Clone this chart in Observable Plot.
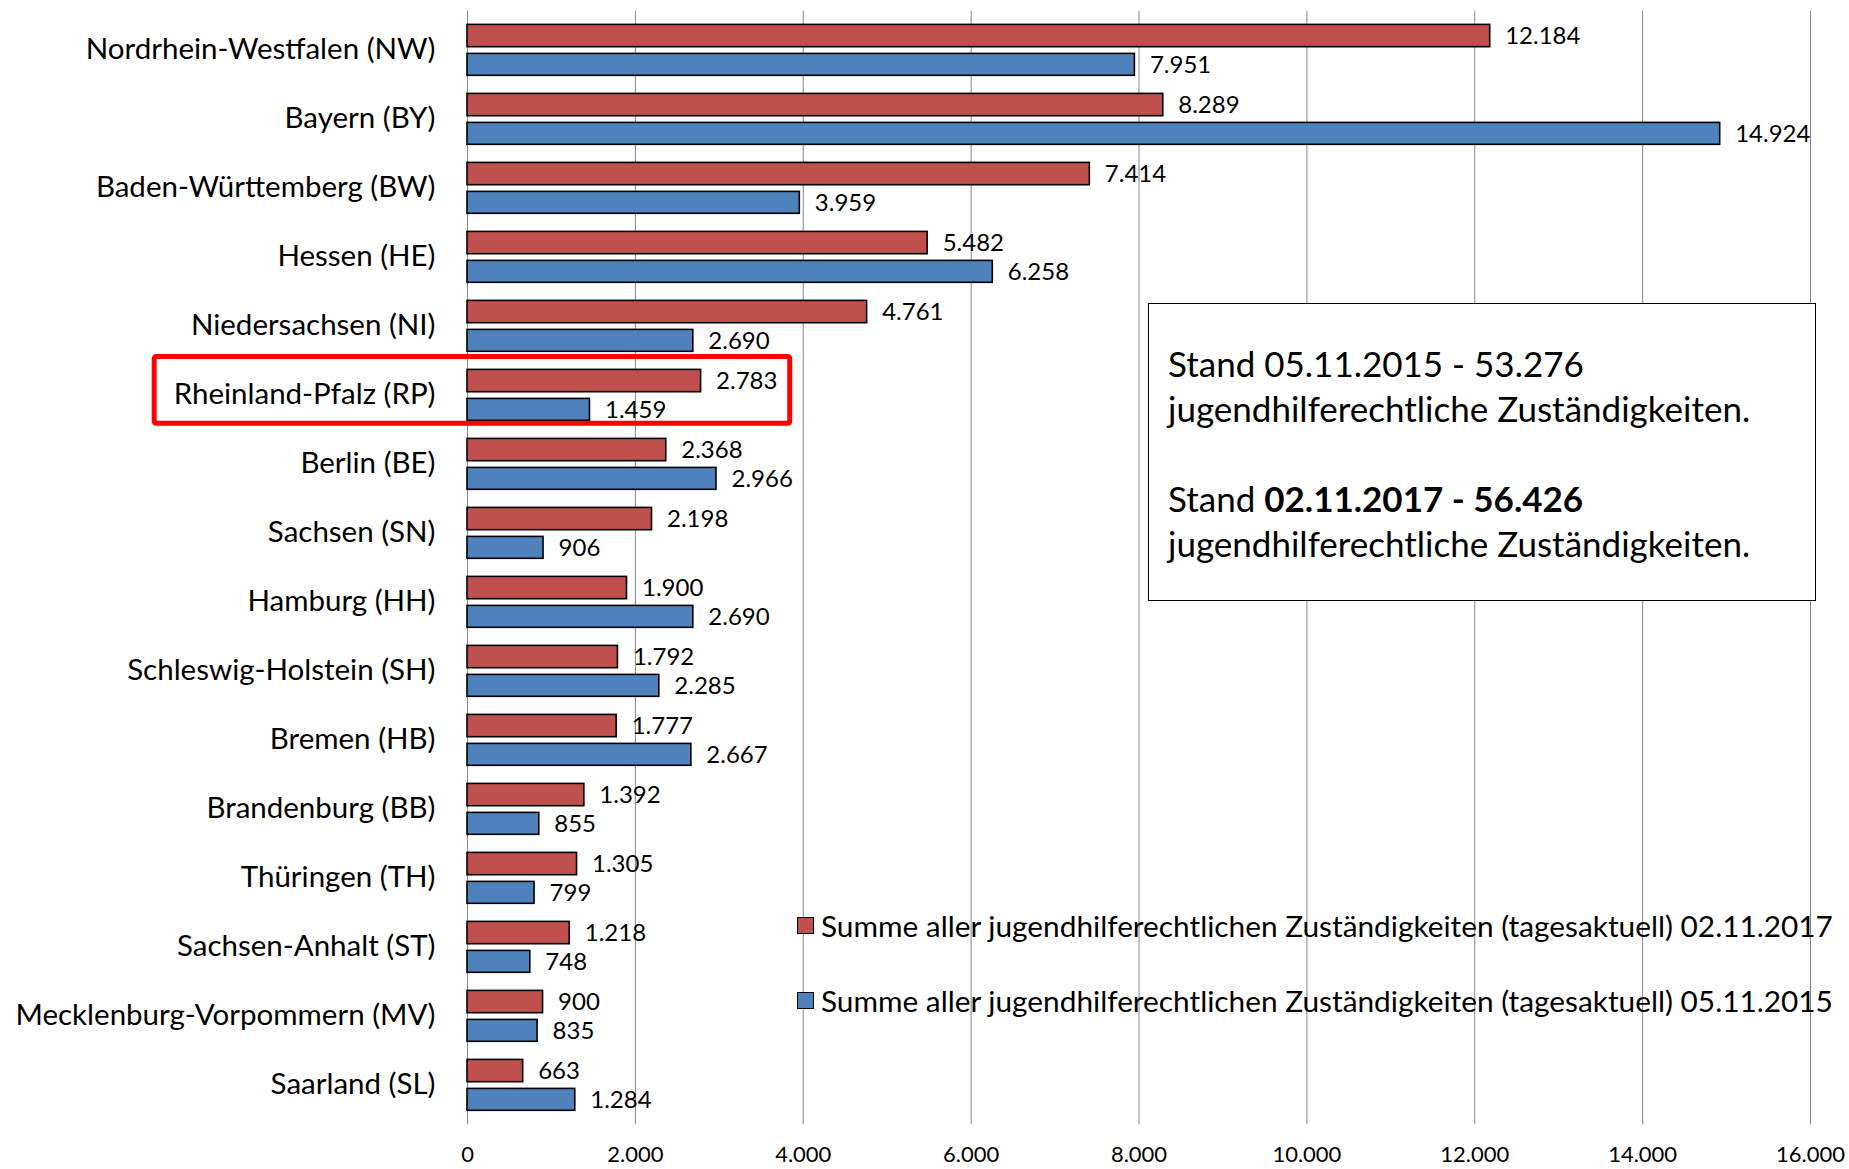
<!DOCTYPE html>
<html>
<head>
<meta charset="utf-8">
<script src="https://cdn.jsdelivr.net/npm/d3@7"></script>
<script src="https://cdn.jsdelivr.net/npm/@observablehq/plot@0.6"></script>
<style>
  html, body { margin: 0; padding: 0; background: #fff; }
  #wrap { position: relative; width: 1849px; height: 1169px; font-family: Lato, "Open Sans", sans-serif; color: #000; }
  #note { position: absolute; left: 1148px; top: 303px; width: 666px; height: 296px; border: 1.5px solid #000; background: #fff;
          box-sizing: content-box; padding: 0; font-size: 35px; line-height: 45px; }
  #note .inner { position: absolute; left: 19px; top: 37px; white-space: nowrap; }
  .leg { position: absolute; left: 797px; font-size: 29.8px; white-space: nowrap; display: flex; align-items: center; }
  .leg .sw { width: 15px; height: 15px; border: 1.5px solid #000; margin-right: 7px; }
</style>
</head>
<body>
<div id="wrap"></div>
<script>
const categories = ["Nordrhein-Westfalen (NW)", "Bayern (BY)", "Baden-Württemberg (BW)", "Hessen (HE)", "Niedersachsen (NI)", "Rheinland-Pfalz (RP)", "Berlin (BE)", "Sachsen (SN)", "Hamburg (HH)", "Schleswig-Holstein (SH)", "Bremen (HB)", "Brandenburg (BB)", "Thüringen (TH)", "Sachsen-Anhalt (ST)", "Mecklenburg-Vorpommern (MV)", "Saarland (SL)"];
const values2017 = [12184, 8289, 7414, 5482, 4761, 2783, 2368, 2198, 1900, 1792, 1777, 1392, 1305, 1218, 900, 663];
const values2015 = [7951, 14924, 3959, 6258, 2690, 1459, 2966, 906, 2690, 2285, 2667, 855, 799, 748, 835, 1284];
const xTicks = [0, 2000, 4000, 6000, 8000, 10000, 12000, 14000, 16000];
const seriesNames = ["Summe aller jugendhilferechtlichen Zuständigkeiten (tagesaktuell) 02.11.2017", "Summe aller jugendhilferechtlichen Zuständigkeiten (tagesaktuell) 05.11.2015"];
const highlight = "Rheinland-Pfalz (RP)";

const RED = "#C0504D", BLUE = "#4F81BD";
const de = d3.formatLocale({decimal: ",", thousands: ".", grouping: [3], currency: ["", " €"]});
const fmt = de.format(",d");

const rows = categories.map((c, i) => ({cat: c, v2017: values2017[i], v2015: values2015[i]}));

const mTop = 10.7, mBottom = 1169 - 1124.3;
const step = (1169 - mTop - mBottom) / categories.length;
// bar geometry inside each band (pixels from band top)
const redTop = 9.4, redBot = 32.3, blueTop = 38.4, blueBot = 60.9;

const chart = Plot.plot({
  width: 1849,
  height: 1169,
  marginLeft: 467,
  marginRight: 39,
  marginTop: mTop,
  marginBottom: mBottom,
  style: {fontFamily: "Lato, 'Open Sans', sans-serif", color: "#000", background: "transparent"},
  x: {domain: [0, 16000]},
  y: {domain: categories, padding: 0},
  marks: [
    Plot.gridX(xTicks, {stroke: "#868686", strokeOpacity: 1, strokeWidth: 1}),
    Plot.axisX({ticks: xTicks, tickSize: 0, tickPadding: 22, fontSize: 22, tickFormat: fmt, label: null}),
    Plot.axisY({tickSize: 0, tickPadding: 32, fontSize: 29.5, label: null}),
    Plot.barX(rows, {x: "v2017", y: "cat", fill: RED, stroke: "#000", strokeWidth: 1.6, insetTop: redTop, insetBottom: step - redBot}),
    Plot.barX(rows, {x: "v2015", y: "cat", fill: BLUE, stroke: "#000", strokeWidth: 1.6, insetTop: blueTop, insetBottom: step - blueBot}),
    Plot.text(rows, {x: "v2017", y: "cat", text: d => fmt(d.v2017), dx: 15, dy: (redTop + redBot) / 2 - step / 2, textAnchor: "start", fontSize: 24, fill: "#000"}),
    Plot.text(rows, {x: "v2015", y: "cat", text: d => fmt(d.v2015), dx: 15, dy: (blueTop + blueBot) / 2 - step / 2, textAnchor: "start", fontSize: 24, fill: "#000"})
  ]
});

const wrap = document.getElementById("wrap");
wrap.appendChild(chart);

// red highlight frame around Rheinland-Pfalz row
const ys = chart.scale("y");
const xs = chart.scale("x");
const y0 = ys.apply(highlight);
d3.select(chart).append("rect")
  .attr("x", 154.2).attr("y", y0 - 3.5)
  .attr("width", xs.apply(3845) - 154.2).attr("height", ys.bandwidth - 2.3)
  .attr("rx", 2)
  .attr("fill", "none").attr("stroke", "#FF0000").attr("stroke-width", 5);

// annotation box
const note = document.createElement("div");
note.id = "note";
note.innerHTML = `<div class="inner">Stand 05.11.2015 - ${fmt(d3.sum(values2015))}<br>jugendhilferechtliche Zuständigkeiten.<br><br>Stand <b>02.11.2017 - ${fmt(56426)}</b><br>jugendhilferechtliche Zuständigkeiten.</div>`;
wrap.appendChild(note);

// legend
[[RED, seriesNames[0], 925], [BLUE, seriesNames[1], 1000]].forEach(([c, t, cy]) => {
  const d = document.createElement("div");
  d.className = "leg";
  d.style.top = (cy - 18) + "px";
  d.style.height = "36px";
  d.innerHTML = `<span class="sw" style="background:${c}"></span><span>${t}</span>`;
  wrap.appendChild(d);
});
</script>
</body>
</html>
